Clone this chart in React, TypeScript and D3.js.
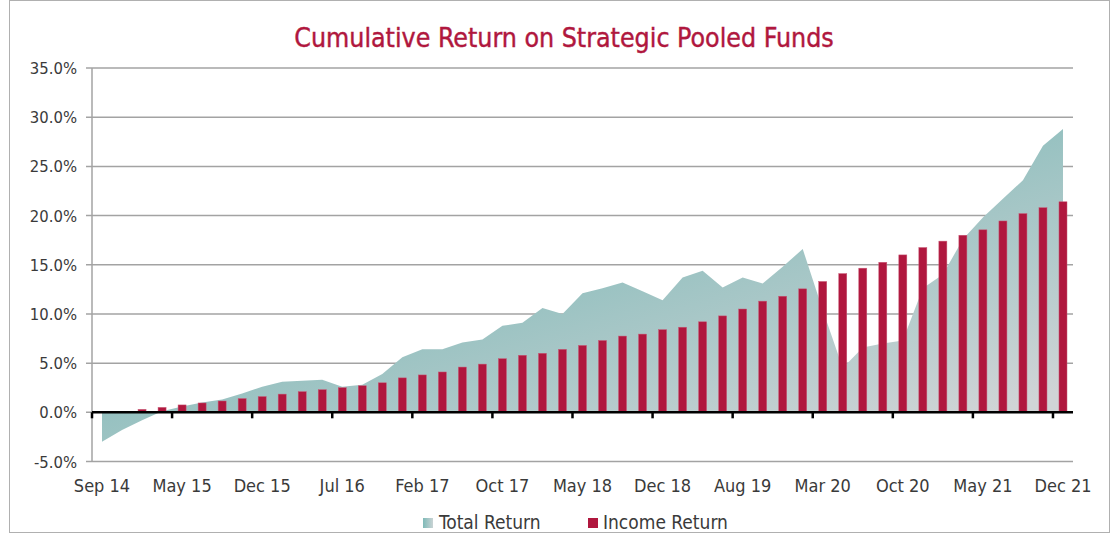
import React from "react";
import * as d3 from "d3";

const tickLabels = ["Sep 14", "May 15", "Dec 15", "Jul 16", "Feb 17", "Oct 17", "May 18", "Dec 18", "Aug 19", "Mar 20", "Oct 20", "May 21", "Dec 21"];

const totalReturn = [
  -3.0, -1.8, -0.8, 0.1, 0.6, 1.0, 1.3, 1.9, 2.6, 3.1,
  3.2, 3.3, 2.6, 2.8, 3.9, 5.6, 6.4, 6.4, 7.1, 7.4,
  8.8, 9.1, 10.6, 10.0, 12.1, 12.6, 13.2, 12.3, 11.4, 13.7,
  14.4, 12.7, 13.7, 13.1, 14.8, 16.6, 10.4, 4.5, 6.6, 7.0,
  7.3, 12.6, 14.0, 17.6, 19.8, 21.7, 23.6, 27.1, 28.8,
];

const incomeReturn = [
  0, 0, 0.3, 0.5, 0.75, 0.95, 1.15, 1.4, 1.6, 1.85,
  2.1, 2.3, 2.5, 2.7, 3.0, 3.5, 3.8, 4.1, 4.6, 4.9,
  5.45, 5.8, 6.0, 6.4, 6.8, 7.3, 7.75, 7.95, 8.4, 8.65,
  9.2, 9.8, 10.5, 11.3, 11.8, 12.55, 13.3, 14.1, 14.65, 15.25,
  16.0, 16.75, 17.4, 18.0, 18.55, 19.45, 20.2, 20.8, 21.4,
];

const categories = d3.range(totalReturn.length);
const yTicks = [-5, 0, 5, 10, 15, 20, 25, 30, 35];

const FONT = "'DejaVu Sans Condensed', 'DejaVu Sans', sans-serif";
const TEXT = "#3a3a3a";
const CRIMSON = "#b0173e";

export default function App() {
  const left = 92, right = 1073, top = 68, bottom = 461.5;
  const x = d3.scaleBand<number>().domain(categories).range([left, right]).padding(0);
  const step = x.step();
  const cx = (i: number) => (x(i) as number) + step / 2;
  const y = d3.scaleLinear().domain([-5, 35]).range([bottom, top]);
  const barW = step * 0.4;

  const area = d3
    .area<number>()
    .x((_, i) => cx(i))
    .y0(y(0))
    .y1((d) => y(d));

  const tickIdx = categories.filter((i) => i % 4 === 0);
  const fmt = (t: number) => d3.format(".1f")(t).replace("\u2212", "-") + "%";

  return (
    <svg
      width={1115}
      height={534}
      style={{ position: "absolute", left: 0, top: 0, background: "#fff" }}
      fontFamily={FONT}
    >
      <defs>
        <linearGradient id="trGrad" gradientUnits="userSpaceOnUse" x1={300} y1={240} x2={405} y2={589}>
          <stop offset="0" stopColor="#7db9b7" />
          <stop offset="1" stopColor="#d0d4d6" />
        </linearGradient>
        <linearGradient id="legGrad" x1="0" y1="0" x2="1" y2="0">
          <stop offset="0" stopColor="#7fbab8" />
          <stop offset="1" stopColor="#c9d3d4" />
        </linearGradient>
      </defs>
      <rect x={9.5} y={0.5} width={1100} height={532} fill="#fff" stroke="#b0b0b0" strokeWidth={1} />

      <text x={564} y={47} textAnchor="middle" fontSize={26.5} fill={CRIMSON} stroke={CRIMSON} strokeWidth={0.4}>
        Cumulative Return on Strategic Pooled Funds
      </text>

      {/* gridlines */}
      {yTicks.map((t) => (
        <g key={t}>
          <line x1={left - 6} x2={right} y1={y(t)} y2={y(t)} stroke="#a3a3a3" strokeWidth={1.5} />
          <text x={77} y={y(t) + 6} textAnchor="end" fontSize={16.5} fill={TEXT}>
            {fmt(t)}
          </text>
        </g>
      ))}
      <line x1={left} x2={left} y1={top} y2={bottom} stroke="#a3a3a3" strokeWidth={1.5} />

      {/* area */}
      <path d={area(totalReturn) || ""} fill="url(#trGrad)" />

      {/* bars */}
      {incomeReturn.map((v, i) =>
        v > 0 ? (
          <rect
            key={i}
            x={cx(i) - barW / 2}
            y={y(v)}
            width={barW}
            height={y(0) - y(v)}
            fill={CRIMSON}
            stroke="#c85a76"
            strokeWidth={0.5}
          />
        ) : null
      )}

      {/* x axis */}
      <line x1={left} x2={right} y1={y(0)} y2={y(0)} stroke="#000" strokeWidth={2.5} />
      {tickIdx.map((i) => (
        <line key={i} x1={x(i)} x2={x(i)} y1={y(0)} y2={y(0) + 6} stroke="#000" strokeWidth={2.5} />
      ))}
      {tickIdx.map((i, k) => (
        <text key={i} x={cx(i)} y={492} textAnchor="middle" fontSize={18} fill={TEXT}>
          {tickLabels[k]}
        </text>
      ))}

      {/* legend */}
      <rect x={423} y={518} width={10} height={10} fill="url(#legGrad)" />
      <text x={439} y={529} fontSize={19} fill={TEXT}>Total Return</text>
      <rect x={588} y={518} width={10} height={10} fill={CRIMSON} />
      <text x={603} y={529} fontSize={19} fill={TEXT}>Income Return</text>
    </svg>
  );
}
